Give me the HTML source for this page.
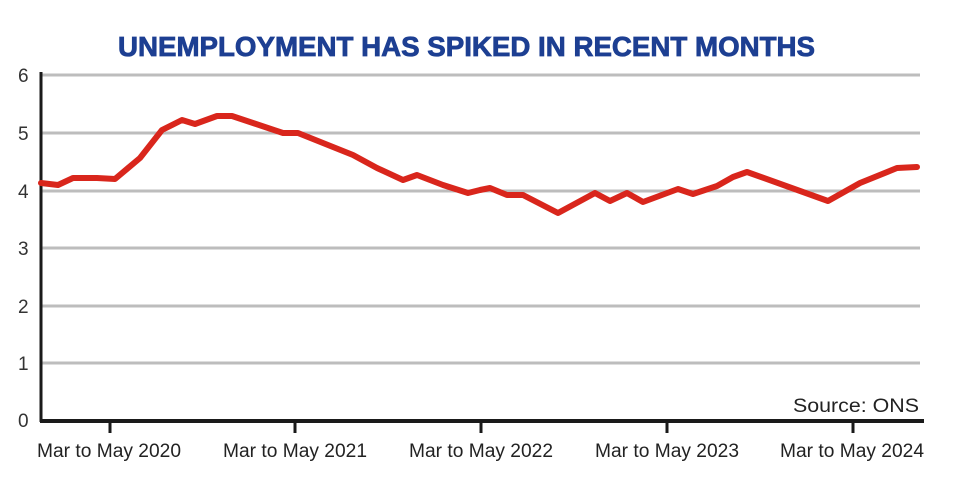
<!DOCTYPE html>
<html><head><meta charset="utf-8"><style>html,body{margin:0;padding:0;background:#fff}</style></head>
<body>
<svg width="960" height="495" viewBox="0 0 960 495" xmlns="http://www.w3.org/2000/svg" font-family="Liberation Sans, sans-serif">
<text x="118" y="56" font-size="28" font-weight="bold" fill="#1d3f92" stroke="#1d3f92" stroke-width="0.8" textLength="697" lengthAdjust="spacingAndGlyphs">UNEMPLOYMENT HAS SPIKED IN RECENT MONTHS</text>
<g stroke="#bdbdbd" stroke-width="3">
<line x1="42" y1="75" x2="920" y2="75"/>
<line x1="42" y1="133" x2="920" y2="133"/>
<line x1="42" y1="191" x2="920" y2="191"/>
<line x1="42" y1="248" x2="920" y2="248"/>
<line x1="42" y1="306" x2="920" y2="306"/>
<line x1="42" y1="363" x2="920" y2="363"/>
</g>
<g font-size="19" fill="#333">
<text x="18" y="82">6</text><text x="18" y="140">5</text><text x="18" y="198">4</text>
<text x="18" y="255">3</text><text x="18" y="313">2</text><text x="18" y="370">1</text><text x="18" y="427">0</text>
</g>
<line x1="41" y1="72" x2="41" y2="422" stroke="#1a1a1a" stroke-width="3"/>
<line x1="40" y1="421" x2="924" y2="421" stroke="#1a1a1a" stroke-width="4"/>
<g stroke="#1a1a1a" stroke-width="3">
<line x1="110" y1="421" x2="110" y2="433"/><line x1="295" y1="421" x2="295" y2="433"/>
<line x1="481" y1="421" x2="481" y2="433"/><line x1="667" y1="421" x2="667" y2="433"/>
<line x1="853" y1="421" x2="853" y2="433"/>
</g>
<g font-size="19" fill="#222">
<text x="37" y="457" textLength="144" lengthAdjust="spacingAndGlyphs">Mar to May 2020</text>
<text x="223" y="457" textLength="144" lengthAdjust="spacingAndGlyphs">Mar to May 2021</text>
<text x="409" y="457" textLength="144" lengthAdjust="spacingAndGlyphs">Mar to May 2022</text>
<text x="595" y="457" textLength="144" lengthAdjust="spacingAndGlyphs">Mar to May 2023</text>
<text x="780" y="457" textLength="144" lengthAdjust="spacingAndGlyphs">Mar to May 2024</text>
<text x="793" y="412" textLength="126" lengthAdjust="spacingAndGlyphs">Source: ONS</text>
</g>
<polyline fill="none" stroke="#d9261c" stroke-width="6" stroke-linejoin="round" stroke-linecap="round"
points="41,183 58,185 73,178 97,178 115,179 140,158 162,130 182,120 195,124 217,116 232,116 253,123 283,133 298,133 333,147 353,155 377,168 403,180 417,175 443,185 468,193 480,190 490,188 507,195 523,195 558,213 595,193 610,201 627,193 643,202 678,189 693,194 717,186 733,177 747,172 828,201 860,183 897,168 917,167"/>
</svg>
</body></html>
